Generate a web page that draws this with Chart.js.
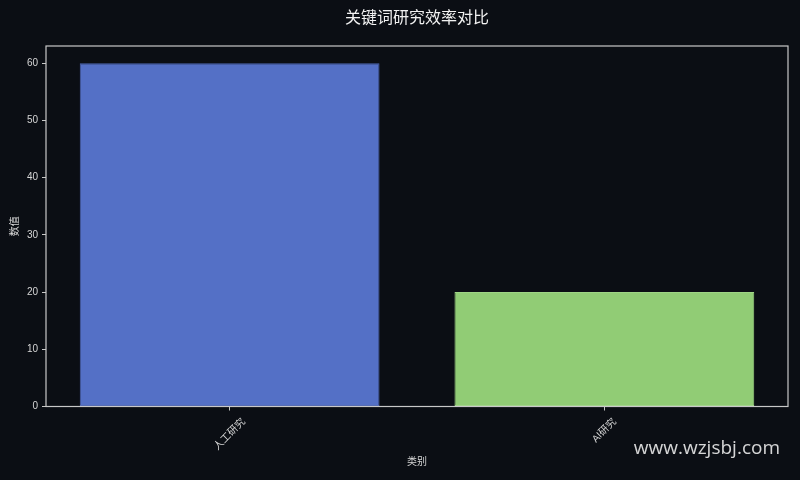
<!DOCTYPE html>
<html>
<head>
<meta charset="utf-8">
<script src="https://cdn.jsdelivr.net/npm/chart.js@4.4.1/dist/chart.umd.min.js"></script>
<style>
  html, body { margin: 0; padding: 0; background: #0b0e14; }
  canvas { display: block; }
</style>
</head>
<body>
<canvas id="chart" width="800" height="480"></canvas>
<script>
"use strict";

const categories = ["人工研究", "AI研究"];
const values = [60, 20];
const barColors = ["#5470c6", "#91cc75"];
const barEdges = ["#4b63b0", "#9fd585"];
const yTicks = [0, 10, 20, 30, 40, 50, 60];

const BG = "#0b0e14";
const FG = "#d6d6d6";
const FRAME = "#c8c8c8";
const CJK = '"Liberation Sans", "Noto Sans CJK SC", sans-serif';

const bgPlugin = {
  id: "bg",
  beforeDraw(chart) {
    const ctx = chart.ctx;
    ctx.save();
    ctx.fillStyle = BG;
    ctx.fillRect(0, 0, chart.width, chart.height);
    ctx.restore();
  },
};

const decorPlugin = {
  id: "decor",
  afterDraw(chart) {
    const ctx = chart.ctx;
    const a = chart.chartArea;
    const xs = chart.scales.x;

    ctx.save();
    // frame like matplotlib spines
    ctx.strokeStyle = FRAME;
    ctx.lineWidth = 1.2;
    ctx.strokeRect(a.left, a.top, a.right - a.left, a.bottom - a.top);

    // rotated category labels, centred on the tick
    ctx.font = "10px " + CJK;
    ctx.fillStyle = FG;
    ctx.textAlign = "center";
    ctx.textBaseline = "middle";
    categories.forEach((c, i) => {
      const px = xs.getPixelForValue(i);
      const w = ctx.measureText(c).width;
      const h = (w + 12) * Math.SQRT1_2;
      ctx.save();
      ctx.translate(px, a.bottom + 9.5 + h / 2);
      ctx.rotate(-Math.PI / 4);
      ctx.fillText(c, 0, 0);
      ctx.restore();
    });

    // title
    ctx.font = "16px " + CJK;
    ctx.fillStyle = "#f2f2f2";
    ctx.fillText("关键词研究效率对比", (a.left + a.right) / 2, 19);

    // watermark
    ctx.font = '19px "Open Sans", "Noto Sans", sans-serif';
    ctx.fillStyle = "rgba(235, 235, 235, 0.9)";
    ctx.textAlign = "right";
    ctx.fillText("www.wzjsbj.com", 780, 449);
    ctx.restore();
  },
};

new Chart(document.getElementById("chart"), {
  type: "bar",
  data: {
    datasets: [
      {
        data: categories.map((c, i) => ({ x: i, y: values[i] })),
        backgroundColor: barColors,
        borderColor: barEdges,
        borderWidth: 1,
        borderSkipped: false,
        categoryPercentage: 1,
        barPercentage: 0.8,
      },
    ],
  },
  options: {
    responsive: false,
    animation: false,
    devicePixelRatio: 1,
    layout: { padding: { top: 46, right: 12, left: 0, bottom: 0 } },
    plugins: {
      legend: { display: false },
      tooltip: { enabled: false },
      title: { display: false },
    },
    scales: {
      x: {
        type: "linear",
        offset: false,
        min: -0.49,
        max: 1.49,
        afterBuildTicks: (s) => {
          s.ticks = categories.map((c, i) => ({ value: i }));
        },
        afterFit: (s) => {
          s.height = 73.5;
        },
        ticks: { display: false },
        grid: {
          offset: false,
          drawOnChartArea: false,
          drawTicks: true,
          tickLength: 4,
          color: FRAME,
        },
        border: { display: false },
        title: {
          display: true,
          text: "类别",
          color: FG,
          font: { family: CJK, size: 10 },
          padding: { top: 12, bottom: 12 },
        },
      },
      y: {
        min: 0,
        max: 63,
        afterBuildTicks: (s) => {
          s.ticks = yTicks.map((v) => ({ value: v }));
        },
        afterFit: (s) => {
          s.width = 46;
        },
        ticks: {
          color: FG,
          font: { family: CJK, size: 10 },
          padding: 4,
        },
        grid: {
          drawOnChartArea: false,
          drawTicks: true,
          tickLength: 4,
          color: FRAME,
        },
        border: { display: false },
        title: {
          display: true,
          text: "数值",
          color: FG,
          font: { family: CJK, size: 10 },
          padding: { top: 9, bottom: 0 },
        },
      },
    },
  },
  plugins: [bgPlugin, decorPlugin],
});
</script>
</body>
</html>
